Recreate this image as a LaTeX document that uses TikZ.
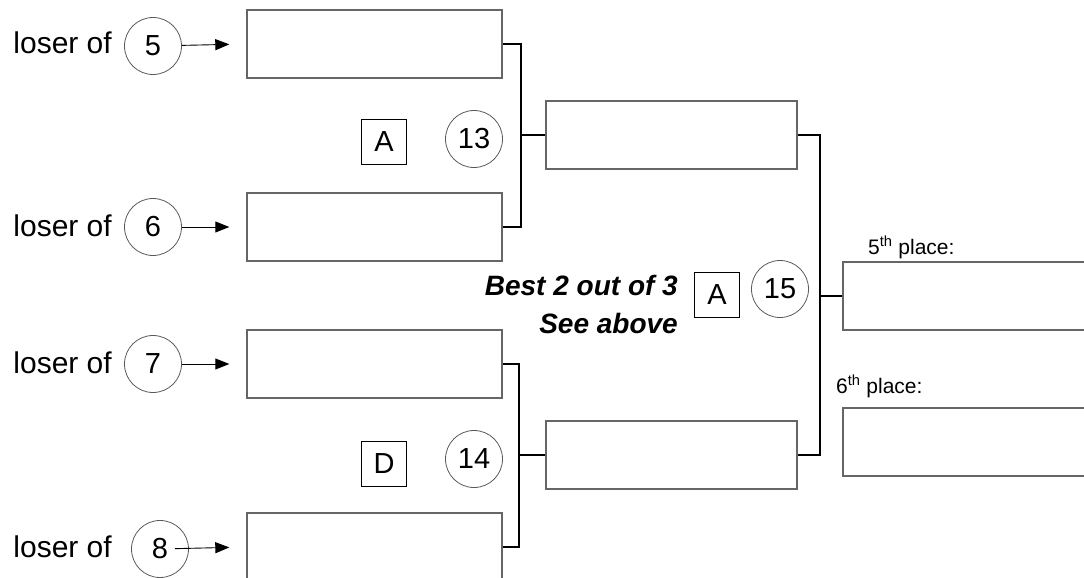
\documentclass[tikz,border=0pt]{standalone}
\usepackage{fontspec}
\setmainfont{Liberation Sans}
\usepackage{tikz}
\usetikzlibrary{arrows.meta,positioning}
\colorlet{lcslot}{black!60}
\colorlet{lcseed}{black!65}

\begin{document}
\begin{tikzpicture}[%
    x=1pt, y=-1pt,              % work in pixels of the sheet, top-down
    >={Triangle[length=14pt,width=11pt]},
    ]
% -------------------------------------------------
% Box and line styles
\tikzset{
  slot/.style={draw=lcslot, line width=1.4pt, minimum width=255pt,
    minimum height=68pt, inner sep=0pt},
  seed/.style={circle, draw=lcseed, line width=0.8pt, minimum size=57pt,
    inner sep=0pt, font={\fontsize{29}{29}\selectfont}},
  tag/.style={draw, line width=0.8pt, minimum size=45pt, inner sep=0pt,
    font={\fontsize{29}{29}\selectfont}},
  lbl/.style={inner sep=0pt, font={\fontsize{30}{30}\selectfont}},
  note/.style={inner sep=0pt, font={\fontsize{28}{28}\selectfont\bfseries\itshape}},
  place/.style={inner sep=0pt, font={\fontsize{21}{21}\selectfont}},
  % connectors
  feed/.style={->, line width=0.9pt, shorten >=17pt},
  brack/.style={draw, line width=2.9pt}
}
\useasboundingbox (0,0) rectangle (1084,578);
\clip (0,0) rectangle (1084,578);
% -------------------------------------------------
% First round boxes
\node [slot] (b1) at (374.5,44)  {};
\node [slot] (b2) at (374.5,227) {};
\node [slot] (b3) at (374.5,364) {};
\node [slot] (b4) at (374.5,547) {};
% second round
\node [slot, minimum width=251pt] (b5) at (671.5,135) {};
\node [slot, minimum width=251pt] (b6) at (671.5,455) {};
% places
\node [slot, minimum width=250pt] (b7) at (968,296) {};
\node [slot, minimum width=250pt] (b8) at (968,442) {};

% -------------------------------------------------
% Losers coming in from the left
\node [seed] (c5) at (153,46)  {5};
\node [seed] (c6) at (153,227) {6};
\node [seed] (c7) at (153,364) {7};
\node [seed] (c8) at (160,549) {8};
\node [lbl, anchor=base east] (l5) at (112,53)  {loser of};
\node [lbl, anchor=base east] (l6) at (112,236) {loser of};
\node [lbl, anchor=base east] (l7) at (112,373) {loser of};
\node [lbl, anchor=base east] (l8) at (112,557) {loser of};

\draw [feed] (c5) -- (b1.west);
\draw [feed] (c6) -- (b2.west);
\draw [feed] (c7) -- (b3.west);
\draw [feed, shorten <=15pt] (c8.center) -- (b4.west);

% -------------------------------------------------
% Brackets joining the boxes
\coordinate (j1) at (521,135);
\coordinate (j2) at (519,455);
\coordinate (j3) at (820,296);
\draw [brack] (b1.east) -| (j1) |- (b2.east);
\draw [brack] (j1) -- (b5.west);
\draw [brack] (b3.east) -| (j2) |- (b4.east);
\draw [brack] (j2) -- (b6.west);
\draw [brack] (b5.east) -| (j3) |- (b6.east);
\draw [brack] (j3) -- (b7.west);

% -------------------------------------------------
% Game numbers and fields
\node [seed] (g13) at (474,139) {13};
\node [tag]  (f13) at (384,142) {A};
\node [seed] (g14) at (474,459) {14};
\node [tag]  (f14) at (384,464) {D};
\node [seed] (g15) at (780,289) {15};
\node [tag]  (f15) at (717,295) {A};

\node [note, anchor=base east] (best) at (678,295) {Best 2 out of 3};
\node [note, anchor=base east] (see)  at (678,333) {See above};

\node [place, anchor=base west] (p5) at (868,254) {5\textsuperscript{th} place:};
\node [place, anchor=base west] (p6) at (836,393) {6\textsuperscript{th} place:};
\end{tikzpicture}
\end{document}
